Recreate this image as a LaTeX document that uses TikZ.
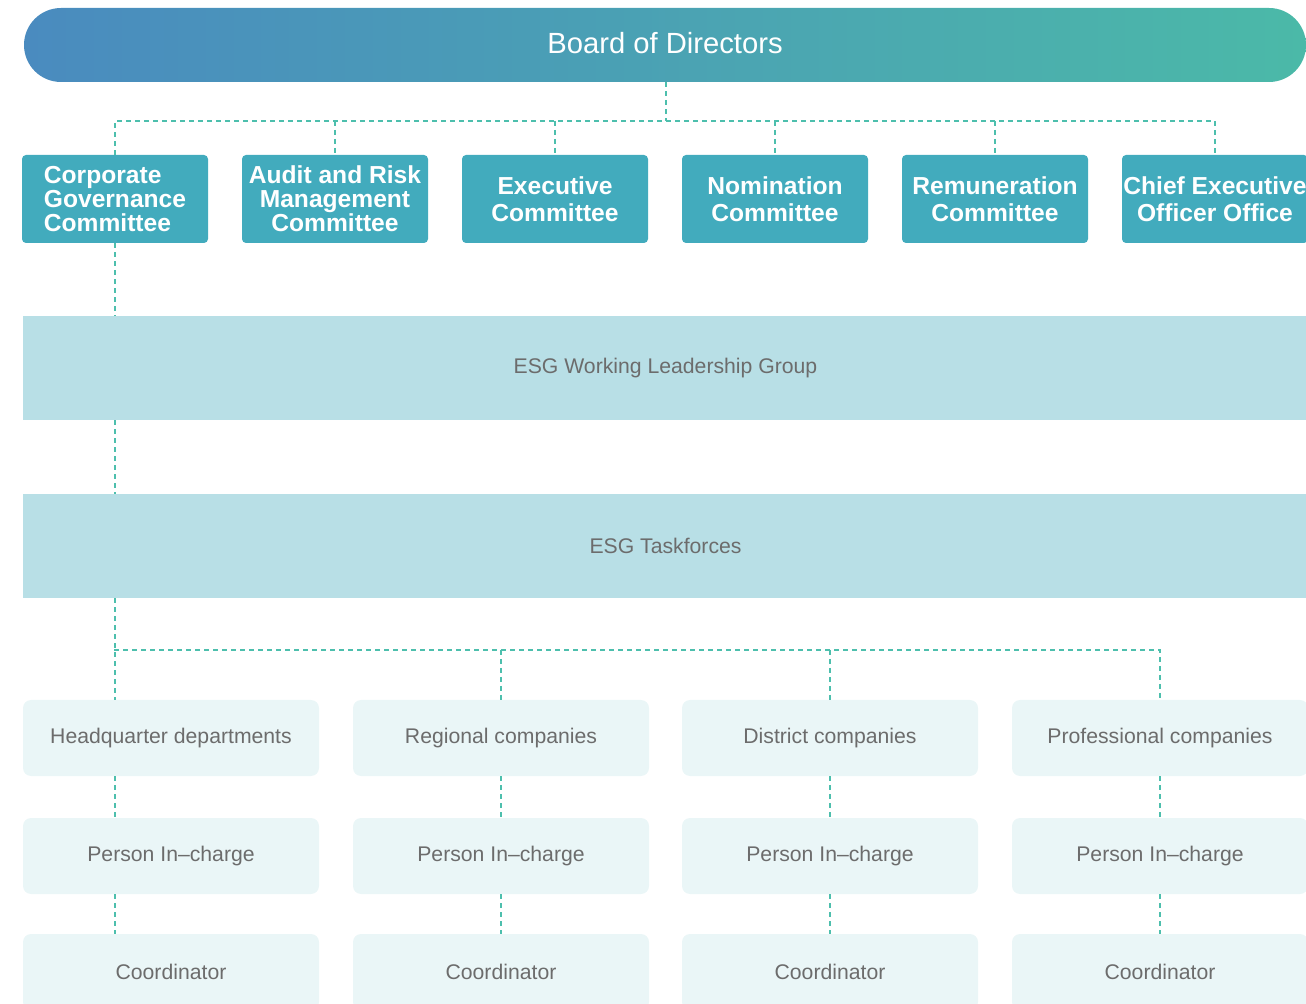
\documentclass[tikz,border=0pt]{standalone}
\usepackage{fontspec}
\setmainfont{Liberation Sans}

\definecolor{boardleft}{HTML}{4A8BBF}
\definecolor{boardright}{HTML}{4BB9A8}
\definecolor{ctteeblue}{HTML}{42ABBD}
\definecolor{groupblue}{HTML}{B8DFE6}
\definecolor{unitblue}{HTML}{EAF6F7}
\definecolor{linkgreen}{HTML}{4DBFAD}
\definecolor{labelgrey}{HTML}{6C6C6C}

\tikzset{
  board/.style={rounded corners=18.5pt, left color=boardleft, right color=boardright,
    text=white, minimum width=641pt, minimum height=37pt, inner sep=0pt,
    font=\fontsize{14.6}{17}\selectfont},
  cttee/.style={fill=ctteeblue, rounded corners=2pt, text=white, align=center,
    minimum width=93pt, minimum height=44pt, inner sep=0pt,
    font=\bfseries\fontsize{12.3}{12}\selectfont},
  group/.style={fill=groupblue, text=labelgrey, minimum width=642.5pt,
    minimum height=52pt, inner sep=0pt, font=\fontsize{10.6}{12}\selectfont},
  unit/.style={fill=unitblue, rounded corners=4pt, text=labelgrey,
    minimum width=148pt, minimum height=38pt, inner sep=0pt,
    font=\fontsize{10.6}{12}\selectfont},
  link/.style={draw=linkgreen, dashed, dash pattern=on 2.5pt off 2pt, line width=0.7pt}
}

\begin{document}
\begin{tikzpicture}[x=0.5pt, y=-0.5pt]
    \useasboundingbox (0,0) rectangle (1306,1004);

    % top of the structure
    \node[board] (board) at (665,45) {\raisebox{2pt}{Board of Directors}};

    % committees under the board
    \node[cttee, align=left] (c1) at (115,199) {Corporate\\Governance\\Committee};
    \node[cttee] (c2) at (335,199) {Audit and Risk\\Management\\Committee};
    \node[cttee, font=\bfseries\fontsize{12.3}{13.5}\selectfont] (c3) at (555,199) {Executive\\Committee};
    \node[cttee, font=\bfseries\fontsize{12.3}{13.5}\selectfont] (c4) at (775,199) {Nomination\\Committee};
    \node[cttee, font=\bfseries\fontsize{12.3}{13.5}\selectfont] (c5) at (995,199) {Remuneration\\Committee};
    \node[cttee, font=\bfseries\fontsize{12.3}{13.5}\selectfont] (c6) at (1215,199) {Chief Executive\\Officer Office};

    % ESG groups
    \node[group] (wlg) at (665.5,368) {ESG Working Leadership Group};
    \node[group] (task) at (665.5,546) {ESG Taskforces};

    % business units
    \node[unit] (d1) at (171,738) {Headquarter departments};
    \node[unit] (d2) at (501,738) {Regional companies};
    \node[unit] (d3) at (830,738) {District companies};
    \node[unit] (d4) at (1160,738) {Professional companies};

    \node[unit] (p1) at (171,856) {Person In\textendash charge};
    \node[unit] (p2) at (501,856) {Person In\textendash charge};
    \node[unit] (p3) at (830,856) {Person In\textendash charge};
    \node[unit] (p4) at (1160,856) {Person In\textendash charge};

    \node[unit] (k1) at (171,972) {Coordinator};
    \node[unit] (k2) at (501,972) {Coordinator};
    \node[unit] (k3) at (830,972) {Coordinator};
    \node[unit] (k4) at (1160,972) {Coordinator};

    % dashed links
    \coordinate (bus1) at (666,121);
    \draw[link] (board.south -| bus1) -- (bus1);
    \draw[link] (c1.north) -- (c1.north |- bus1) -- (c6.north |- bus1) -- (c6.north);
    \draw[link] (c2.north |- bus1) -- (c2.north);
    \draw[link] (c3.north |- bus1) -- (c3.north);
    \draw[link] (c4.north |- bus1) -- (c4.north);
    \draw[link] (c5.north |- bus1) -- (c5.north);

    \draw[link] (c1.south) -- (c1.south |- wlg.north);
    \draw[link] (c1.south |- wlg.south) -- (c1.south |- task.north);
    \draw[link] (c1.south |- task.south) -- (c1.south |- d1.north);

    \coordinate (bus2) at (114,650);
    \draw[link] (bus2) -- (bus2 -| d4.north) -- (d4.north);
    \draw[link] (bus2 -| d2.north) -- (d2.north);
    \draw[link] (bus2 -| d3.north) -- (d3.north);

    \draw[link] (c1.south |- d1.south) -- (c1.south |- p1.north);
    \draw[link] (c1.south |- p1.south) -- (c1.south |- k1.north);
    \draw[link] (d2.south) -- (p2.north);
    \draw[link] (p2.south) -- (k2.north);
    \draw[link] (d3.south) -- (p3.north);
    \draw[link] (p3.south) -- (k3.north);
    \draw[link] (d4.south) -- (p4.north);
    \draw[link] (p4.south) -- (k4.north);
\end{tikzpicture}
\end{document}
